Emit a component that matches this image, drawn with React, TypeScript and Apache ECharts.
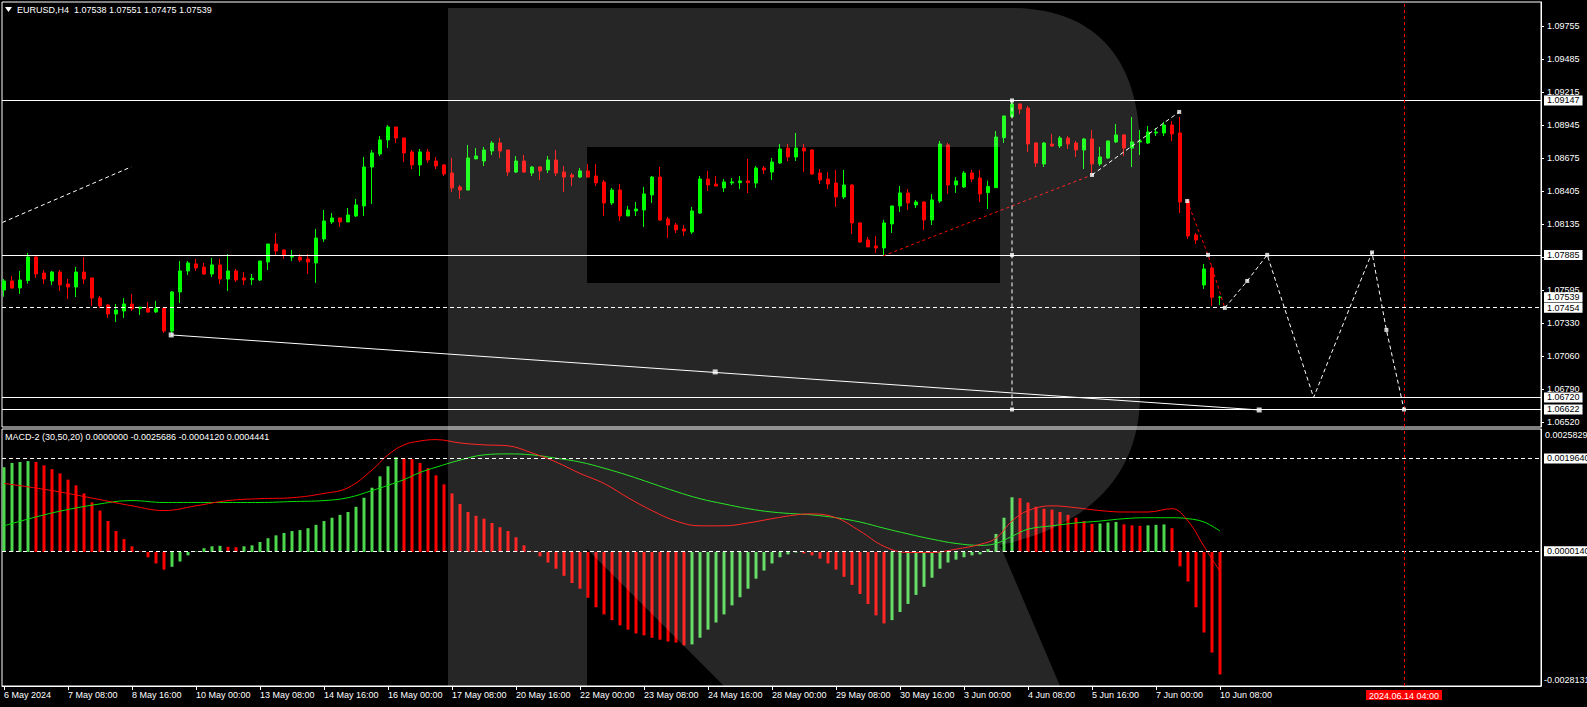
import React, { useEffect, useRef } from "react";
import * as echarts from "echarts";

// ---------- DATA ----------
const timeTickIndex = [0, 8, 16, 24, 32, 40, 48, 56, 64, 72, 80, 88, 96, 104, 112, 120, 128, 136, 144, 152];
const timeLabels = [
  "6 May 2024", "7 May 08:00", "8 May 16:00", "10 May 00:00", "13 May 08:00", "14 May 16:00",
  "16 May 00:00", "17 May 08:00", "20 May 16:00", "22 May 00:00", "23 May 08:00", "24 May 16:00",
  "28 May 00:00", "29 May 08:00", "30 May 16:00", "3 Jun 00:00", "4 Jun 08:00", "5 Jun 16:00",
  "7 Jun 00:00", "10 Jun 08:00",
];
const priceTicks = [1.09755, 1.09485, 1.09215, 1.08945, 1.08675, 1.08405, 1.08135, 1.07865, 1.07595, 1.0733, 1.0706, 1.0679, 1.0652];
const macdTopLabel = 0.0025829;
const macdBottomLabel = -0.0028131;

const opens = [
  1.07598, 1.07672, 1.07615, 1.07675, 1.07868, 1.07737, 1.07672, 1.07745, 1.07647, 1.07623,
  1.07745, 1.07697, 1.07533, 1.07476, 1.07402, 1.07427, 1.07484, 1.07449, 1.07449, 1.07419,
  1.07449, 1.07263, 1.07582, 1.07754, 1.07811, 1.07786, 1.07729, 1.07803, 1.07688, 1.07754,
  1.07697, 1.07683, 1.0768, 1.07827, 1.07974, 1.07925, 1.07868, 1.07868, 1.07852, 1.07819,
  1.08015, 1.08154, 1.08187, 1.08154, 1.08203, 1.08285, 1.08603, 1.08709, 1.08824, 1.0893,
  1.0884, 1.08726, 1.0862, 1.08726, 1.08652, 1.0862, 1.08554, 1.0844, 1.08415, 1.08669,
  1.08652, 1.08734, 1.08799, 1.08742, 1.08562, 1.08652, 1.08554, 1.08603, 1.08579, 1.0866,
  1.08562, 1.08538, 1.08521, 1.08571, 1.0853, 1.08481, 1.08309, 1.08415, 1.08203, 1.08244,
  1.08252, 1.08375, 1.08521, 1.08178, 1.08129, 1.08097, 1.08072, 1.08227, 1.08505, 1.08464,
  1.08432, 1.08473, 1.08475, 1.08489, 1.08472, 1.08595, 1.08562, 1.08636, 1.08758, 1.08685,
  1.08758, 1.08742, 1.08554, 1.08505, 1.08472, 1.08358, 1.08456, 1.08146, 1.08007, 1.07958,
  1.07942, 1.08138, 1.08285, 1.08391, 1.08293, 1.08317, 1.0817, 1.08325, 1.08783, 1.08456,
  1.0844, 1.08554, 1.08513, 1.08394, 1.08434, 1.08843, 1.09014, 1.09118, 1.09085, 1.08799,
  1.08628, 1.08791, 1.08775, 1.0884, 1.08799, 1.08742, 1.08832, 1.08628, 1.08677, 1.08808,
  1.08865, 1.08758, 1.08808, 1.08799, 1.08881, 1.08881, 1.08946, 1.08881, 1.08325, 1.08048,
  1.07639, 1.07778, 1.07538,
];
const closes = [
  1.07672, 1.07615, 1.0768, 1.07868, 1.07729, 1.07688, 1.07745, 1.07639, 1.07623, 1.07745,
  1.07688, 1.07533, 1.07468, 1.07402, 1.07435, 1.07484, 1.07443, 1.07458, 1.07419, 1.07449,
  1.07263, 1.07582, 1.07754, 1.07819, 1.07778, 1.07729, 1.07803, 1.07688, 1.07754, 1.0768,
  1.0768, 1.07694, 1.07835, 1.07974, 1.07917, 1.07884, 1.07871, 1.07843, 1.07827, 1.08023,
  1.08162, 1.08187, 1.08154, 1.08211, 1.08293, 1.08603, 1.08718, 1.08824, 1.0893, 1.0884,
  1.08718, 1.0862, 1.08726, 1.0866, 1.08611, 1.08546, 1.08432, 1.08415, 1.08677, 1.08693,
  1.08742, 1.08799, 1.08734, 1.08562, 1.08652, 1.08562, 1.08603, 1.08571, 1.0866, 1.08554,
  1.08521, 1.08521, 1.08571, 1.08521, 1.08473, 1.08309, 1.08415, 1.08203, 1.08252, 1.0826,
  1.08383, 1.08521, 1.0817, 1.08129, 1.08089, 1.0808, 1.08244, 1.08505, 1.08456, 1.08448,
  1.08481, 1.08481, 1.08489, 1.08475, 1.08595, 1.08579, 1.08644, 1.0875, 1.08685, 1.08758,
  1.08734, 1.08546, 1.08497, 1.08464, 1.08358, 1.08456, 1.08146, 1.07991, 1.0795, 1.07942,
  1.08146, 1.08285, 1.08391, 1.08309, 1.08317, 1.0817, 1.08334, 1.08791, 1.08456, 1.08489,
  1.08554, 1.08505, 1.08383, 1.08443, 1.08848, 1.0902, 1.09118, 1.09077, 1.08791, 1.08636,
  1.08799, 1.08775, 1.0884, 1.08791, 1.08742, 1.08832, 1.08628, 1.08685, 1.08816, 1.08865,
  1.08758, 1.08808, 1.08816, 1.08889, 1.08889, 1.08946, 1.08873, 1.08317, 1.0804, 1.08007,
  1.0777, 1.07539, 1.07539,
];
const highs = [
  1.07688, 1.07713, 1.07754, 1.07901, 1.07876, 1.07762, 1.07754, 1.07762, 1.07688, 1.07786,
  1.07868, 1.07697, 1.07549, 1.07484, 1.07484, 1.07533, 1.07566, 1.0746, 1.075, 1.07509,
  1.0746, 1.0759, 1.07835, 1.07835, 1.07852, 1.07819, 1.0786, 1.07852, 1.07892, 1.0777,
  1.07745, 1.07729, 1.07835, 1.07974, 1.08064, 1.07933, 1.07925, 1.07892, 1.07892, 1.08097,
  1.08252, 1.08227, 1.08187, 1.08268, 1.08342, 1.08685, 1.08742, 1.08856, 1.08946, 1.0893,
  1.0884, 1.08742, 1.0875, 1.0875, 1.08685, 1.08628, 1.08677, 1.08456, 1.08783, 1.08758,
  1.08767, 1.08816, 1.0884, 1.08742, 1.08693, 1.08701, 1.08611, 1.08611, 1.08693, 1.08742,
  1.08611, 1.08554, 1.08595, 1.08628, 1.08628, 1.08497, 1.08432, 1.08464, 1.08285, 1.08317,
  1.0844, 1.0853, 1.08603, 1.08195, 1.08146, 1.08129, 1.08277, 1.0853, 1.08571, 1.0853,
  1.08505, 1.08513, 1.0853, 1.08669, 1.08611, 1.08611, 1.08677, 1.08791, 1.08791, 1.08881,
  1.08791, 1.0875, 1.08587, 1.08562, 1.08579, 1.08579, 1.08464, 1.08154, 1.08031, 1.0804,
  1.08171, 1.08285, 1.08448, 1.08423, 1.08334, 1.08325, 1.08383, 1.08815, 1.08799, 1.08521,
  1.0857, 1.08579, 1.08579, 1.08492, 1.08897, 1.0902, 1.09147, 1.09118, 1.09102, 1.08807,
  1.08807, 1.08873, 1.08856, 1.08856, 1.08816, 1.0884, 1.08905, 1.08767, 1.08816, 1.08955,
  1.08873, 1.09012, 1.08905, 1.08938, 1.08922, 1.08971, 1.08979, 1.09012, 1.08342, 1.08064,
  1.07811, 1.07794, 1.07551,
];
const lows = [
  1.07544, 1.07609, 1.07566, 1.0765, 1.07697, 1.07647, 1.07639, 1.0759, 1.07525, 1.07541,
  1.07647, 1.07468, 1.07451, 1.0737, 1.07337, 1.0737, 1.07427, 1.07394, 1.07411, 1.07411,
  1.07247, 1.07239, 1.07492, 1.07721, 1.07754, 1.07721, 1.07705, 1.07647, 1.0759, 1.07664,
  1.07639, 1.07639, 1.07672, 1.07762, 1.07884, 1.07852, 1.07835, 1.07826, 1.07729, 1.07656,
  1.07991, 1.08138, 1.08113, 1.08154, 1.08195, 1.08203, 1.08301, 1.08692, 1.08758, 1.08799,
  1.08644, 1.08587, 1.0853, 1.08636, 1.08587, 1.0853, 1.08399, 1.08342, 1.08415, 1.08669,
  1.08611, 1.08701, 1.08677, 1.0853, 1.08554, 1.08554, 1.0853, 1.08497, 1.08554, 1.0853,
  1.08399, 1.08448, 1.08513, 1.08513, 1.08448, 1.08203, 1.08293, 1.08162, 1.08203, 1.08203,
  1.08113, 1.08309, 1.08162, 1.08023, 1.08064, 1.0804, 1.08056, 1.08219, 1.08407, 1.08448,
  1.08399, 1.08456, 1.08423, 1.08391, 1.08432, 1.08546, 1.08497, 1.08628, 1.08652, 1.08652,
  1.08562, 1.08538, 1.08464, 1.08423, 1.08276, 1.08342, 1.08056, 1.07982, 1.0795, 1.07901,
  1.07876, 1.08064, 1.08236, 1.08252, 1.08268, 1.08089, 1.08129, 1.08309, 1.08383, 1.08391,
  1.08432, 1.08481, 1.08317, 1.0826, 1.08434, 1.088, 1.09014, 1.09036, 1.08726, 1.08603,
  1.08603, 1.08767, 1.08758, 1.0875, 1.08685, 1.08587, 1.08554, 1.08611, 1.08669, 1.08799,
  1.08693, 1.08603, 1.08701, 1.08791, 1.08856, 1.08856, 1.08815, 1.08227, 1.08015, 1.07974,
  1.07607, 1.07468, 1.07475,
];

const macdHist = [
  0.00178, 0.00187, 0.00189, 0.00191, 0.00189, 0.00182, 0.00174, 0.00165, 0.00152, 0.0014,
  0.00123, 0.00104, 0.00087, 0.00065, 0.00044, 0.00027, 0.00012, 0.00001, -0.00011, -0.00024,
  -0.00037, -0.00031, -0.0002, -0.00007, 0.00001, 0.00008, 0.00012, 0.00013, 0.00011, 0.0001,
  0.00012, 0.00014, 0.00021, 0.00029, 0.00035, 0.0004, 0.00044, 0.00046, 0.0005, 0.00057,
  0.00065, 0.00072, 0.00078, 0.00084, 0.00095, 0.00114, 0.00135, 0.00159, 0.0018, 0.00199,
  0.00197, 0.00195, 0.00187, 0.00176, 0.00161, 0.00142, 0.00123, 0.00101, 0.00084, 0.00076,
  0.0007, 0.00061, 0.00052, 0.00044, 0.00031, 0.00014, 0.00001, -0.00009, -0.00022, -0.00035,
  -0.0005, -0.00065, -0.00077, -0.00096, -0.00116, -0.00131, -0.00143, -0.00154, -0.00163, -0.00171,
  -0.00175, -0.0018, -0.00184, -0.00188, -0.0019, -0.00196, -0.00194, -0.0018, -0.00163, -0.00148,
  -0.00131, -0.00112, -0.00095, -0.00077, -0.00056, -0.00039, -0.00024, -0.00011, -0.00005, -0.00001,
  -0.00003, -0.00007, -0.00014, -0.00024, -0.00037, -0.00052, -0.00069, -0.00088, -0.00109, -0.00133,
  -0.0015, -0.00143, -0.00126, -0.00109, -0.0009, -0.00073, -0.00054, -0.00035, -0.00022, -0.00016,
  -0.00011, -0.00007, -0.00005, 0.00006, 0.00038, 0.00072, 0.00115, 0.00113, 0.00104, 0.00095,
  0.00091, 0.00089, 0.00084, 0.00078, 0.00072, 0.00065, 0.00059, 0.0006, 0.00062, 0.00063,
  0.00058, 0.00056, 0.00055, 0.00056, 0.00057, 0.00058, 0.0005, -0.0003, -0.00062, -0.00116,
  -0.00169, -0.00211, -0.00257,
];
const macdRedLine: [number, number][] = [
  [0, 0.00144], [6, 0.00129], [12, 0.0011], [16, 0.00097], [20, 0.00087], [24, 0.00097], [28, 0.00108],
  [32, 0.00112], [36, 0.00114], [40, 0.00123], [43, 0.00135], [46, 0.00172], [48, 0.00204], [50, 0.00225],
  [52, 0.00233], [54, 0.00236], [57, 0.00229], [60, 0.00225], [63, 0.00223], [66, 0.00208], [69, 0.00189],
  [72, 0.00165], [75, 0.00144], [78, 0.00114], [81, 0.00087], [84, 0.00065], [87, 0.00055], [90, 0.00055],
  [93, 0.00061], [96, 0.0007], [99, 0.00078], [101, 0.0008], [104, 0.00072], [107, 0.00044], [110, 0.00012],
  [113, -0.00001], [116, -0.00001], [119, 0.00006], [122, 0.00016], [124, 0.00029], [126, 0.00065],
  [128, 0.00087], [131, 0.00097], [134, 0.00093], [137, 0.00087], [140, 0.00084], [143, 0.00084],
  [146, 0.00091], [148, 0.00065], [150, 0.00012], [152, -0.00041],
];
const macdGreenLine: [number, number][] = [
  [0, 0.00055], [6, 0.00082], [12, 0.00101], [16, 0.00108], [20, 0.00104], [24, 0.00104], [28, 0.00104],
  [32, 0.00104], [36, 0.00106], [40, 0.00108], [43, 0.00114], [46, 0.00129], [48, 0.0014], [50, 0.00152],
  [52, 0.00167], [54, 0.00178], [57, 0.00193], [60, 0.00204], [63, 0.00206], [66, 0.00204], [69, 0.00197],
  [72, 0.00189], [75, 0.00176], [78, 0.00161], [81, 0.00144], [84, 0.00127], [87, 0.00112], [90, 0.00101],
  [93, 0.00091], [96, 0.00084], [99, 0.0008], [101, 0.00078], [104, 0.00072], [107, 0.00063], [110, 0.0005],
  [113, 0.00038], [116, 0.00027], [119, 0.00018], [122, 0.00014], [124, 0.00018], [126, 0.00033],
  [128, 0.00048], [131, 0.00055], [134, 0.00061], [137, 0.00065], [140, 0.0007], [143, 0.00072],
  [146, 0.00072], [148, 0.0007], [150, 0.00063], [152, 0.00044],
];

const solidLevels = [1.09147, 1.07885, 1.0672, 1.06622];
const dashedLevels = [1.07454];
const bidPrice = 1.07539;
const macdLevels = [0.001964, 0.000014];
const forecastBar = 175;
const forecastLabel = "2024.06.14 04:00";

const trendLine: [number, number][] = [[20.9, 1.07231], [156.9, 1.06618]];
const trendMarkers: [number, number][] = [[20.9, 1.07231], [88.9, 1.06929], [156.9, 1.06618]];
const topLeftDash: [number, number][] = [[-0.2, 1.0815], [15.9, 1.08604]];
const redDashA: [number, number][] = [[109.9, 1.07877], [136, 1.08538]];
const whiteDashA: [number, number][] = [[136, 1.08538], [146.9, 1.09053]];
const redDashB: [number, number][] = [[147.9, 1.08325], [150.5, 1.07885], [152.6, 1.07452]];
const forecastPath: [number, number][] = [
  [152.6, 1.07452], [155.4, 1.07672], [157.9, 1.07885], [163.7, 1.0672], [171, 1.07905], [172.8, 1.07272], [175, 1.06622],
];
const verticalDash: [number, number][] = [[126, 1.09147], [126, 1.06622]];
const pointMarkers: [number, number][] = [
  [136, 1.08538], [146.9, 1.09053], [147.9, 1.08325], [150.5, 1.07885], [152.6, 1.07452], [155.4, 1.07672],
  [157.9, 1.07885], [171, 1.07905], [172.8, 1.07272], [175, 1.06622], [126, 1.09147], [126, 1.07885], [126, 1.06622],
];

const headerText = "EURUSD,H4  1.07538 1.07551 1.07475 1.07539";
const macdHeader = "MACD-2 (30,50,20) 0.0000000 -0.0025686 -0.0004120 0.0004441";

// ---------- STYLE ----------
const FONT = "Liberation Sans";
const UP = "#00ff00";
const DOWN = "#ff0000";
const HIST_UP = "#4cd84c";
const X_MIN = -0.25;
const X_MAX = 192.125;
const Y_MIN = 1.06479;
const Y_MAX = 1.09951;
const M_MIN = -0.0028131;
const M_MAX = 0.0025829;

const LOGO_PATH =
  "M448,8 H1010 C1095,8 1140,58 1140,150 V395 C1140,470 1095,525 1000,545 L1060,686 H724 L587,549 V686 H448 Z " +
  "M587,147 V283 H1000 V147 Z";

function boxLabel(text: string) {
  return {
    show: true,
    position: "end",
    formatter: text,
    backgroundColor: "#ffffff",
    color: "#000000",
    padding: [1, 3, 0, 3],
    distance: 3,
    fontSize: 9,
    fontFamily: FONT,
  };
}

function baseGraphic(): any[] {
  return [
    { id: "tri", type: "polygon", shape: { points: [[5, 7], [12, 7], [8.5, 12]] }, style: { fill: "#ffffff" }, silent: true, z: 50 },
    { id: "hdr", type: "text", x: 17, y: 5, style: { text: headerText, fill: "#ffffff", font: `9px "${FONT}"` }, silent: true, z: 50 },
    { id: "mhdr", type: "text", x: 5, y: 432, style: { text: macdHeader, fill: "#ffffff", font: `9px "${FONT}"` }, silent: true, z: 50 },
    {
      id: "logo",
      type: "logo",
      x: 0,
      y: 0,
      scaleX: 1,
      scaleY: 1,
      style: { fill: "rgba(255,255,255,0.15)" },
      silent: true,
      z: 100,
    },
  ];
}

function buildOption() {
  const candleData = opens.map((o, i) => [i, o, closes[i], lows[i], highs[i]]);
  const histData = macdHist.map((v, i) => [i, v]);

  const mainMarkLines: any[] = [];
  solidLevels.forEach((v) =>
    mainMarkLines.push({ yAxis: v, lineStyle: { color: "#ffffff", type: "solid", width: 1 }, label: boxLabel(v.toFixed(5)) })
  );
  dashedLevels.forEach((v) =>
    mainMarkLines.push({ yAxis: v, lineStyle: { color: "#ffffff", type: [4, 3], width: 1 }, label: boxLabel(v.toFixed(5)) })
  );
  mainMarkLines.push({ yAxis: bidPrice, lineStyle: { color: "transparent", width: 0 }, label: boxLabel(bidPrice.toFixed(5)) });
  mainMarkLines.push({ xAxis: forecastBar, lineStyle: { color: "#ff0000", type: [3, 3], width: 1 }, label: { show: false } });

  const macdMarkLines: any[] = macdLevels.map((v) => ({
    yAxis: v,
    lineStyle: { color: "#ffffff", type: [4, 3], width: 1 },
    label: boxLabel(v.toFixed(7)),
  }));
  macdMarkLines.push({
    xAxis: forecastBar,
    lineStyle: { color: "#ff0000", type: [3, 3], width: 1 },
    label: {
      show: true,
      position: "start",
      formatter: forecastLabel,
      backgroundColor: "#ff0000",
      color: "#ffffff",
      padding: [1, 3, 0, 3],
      distance: 4,
      fontSize: 9,
      fontFamily: FONT,
    },
  });

  const lineSeries = (data: [number, number][], color: string, dashed: any) => ({
    type: "line",
    xAxisIndex: 0,
    yAxisIndex: 0,
    data,
    showSymbol: false,
    silent: true,
    lineStyle: { color, width: 1, type: dashed },
    z: 5,
  });

  return {
    animation: false,
    backgroundColor: "#000000",
    textStyle: { fontFamily: FONT, fontSize: 9 },
    grid: [
      { left: 2, top: 2, width: 1539, height: 425, show: true, borderColor: "#ffffff", borderWidth: 1, backgroundColor: "transparent" },
      { left: 2, top: 429, width: 1539, height: 257, show: true, borderColor: "#ffffff", borderWidth: 1, backgroundColor: "transparent" },
    ],
    xAxis: [
      { type: "value", gridIndex: 0, min: X_MIN, max: X_MAX, show: false, splitLine: { show: false } },
      {
        type: "value",
        gridIndex: 1,
        min: X_MIN,
        max: X_MAX,
        position: "bottom",
        axisLine: { show: true, onZero: false, lineStyle: { color: "#ffffff" } },
        axisTick: { show: true, customValues: timeTickIndex, length: 4, lineStyle: { color: "#ffffff" } },
        axisLabel: {
          show: true,
          customValues: timeTickIndex,
          formatter: (v: number) => timeLabels[timeTickIndex.indexOf(Math.round(v))] ?? "",
          color: "#ffffff",
          fontSize: 9,
          fontFamily: FONT,
          align: "left",
          margin: 4,
        },
        splitLine: { show: false },
      },
    ],
    yAxis: [
      {
        type: "value",
        gridIndex: 0,
        position: "right",
        min: Y_MIN,
        max: Y_MAX,
        axisLine: { show: true, onZero: false, lineStyle: { color: "#ffffff" } },
        axisTick: { show: true, customValues: priceTicks, length: 3, lineStyle: { color: "#ffffff" } },
        axisLabel: {
          show: true,
          customValues: priceTicks,
          formatter: (v: number) => v.toFixed(5),
          color: "#ffffff",
          fontSize: 9,
          fontFamily: FONT,
          margin: 6,
        },
        splitLine: { show: false },
      },
      {
        type: "value",
        gridIndex: 1,
        position: "right",
        min: M_MIN,
        max: M_MAX,
        axisLine: { show: true, onZero: false, lineStyle: { color: "#ffffff" } },
        axisTick: { show: false },
        axisLabel: { show: false },
        splitLine: { show: false },
      },
    ],
    series: [
      {
        type: "candlestick",
        xAxisIndex: 0,
        yAxisIndex: 0,
        data: candleData,
        encode: { x: 0, y: [1, 2, 3, 4] },
        barWidth: 4,
        silent: true,
        itemStyle: { color: UP, color0: DOWN, borderColor: UP, borderColor0: DOWN, borderWidth: 1 },
        markLine: { symbol: ["none", "none"], silent: true, animation: false, precision: 8, data: mainMarkLines },
        z: 3,
      },
      lineSeries(trendLine, "#ffffff", "solid"),
      lineSeries(topLeftDash, "#ffffff", [4, 3]),
      lineSeries(redDashA, "#ff0000", [3, 3]),
      lineSeries(whiteDashA, "#ffffff", [4, 3]),
      lineSeries(redDashB, "#ff0000", [3, 3]),
      lineSeries(forecastPath, "#ffffff", [4, 3]),
      lineSeries(verticalDash, "#ffffff", [4, 3]),
      {
        type: "scatter",
        xAxisIndex: 0,
        yAxisIndex: 0,
        data: trendMarkers,
        symbol: "rect",
        symbolSize: 5,
        itemStyle: { color: "#ffffff" },
        silent: true,
        z: 6,
      },
      {
        type: "scatter",
        xAxisIndex: 0,
        yAxisIndex: 0,
        data: pointMarkers,
        symbol: "rect",
        symbolSize: 4,
        itemStyle: { color: "#ffffff" },
        silent: true,
        z: 6,
      },
      {
        type: "bar",
        xAxisIndex: 1,
        yAxisIndex: 1,
        data: histData,
        barWidth: 3,
        silent: true,
        itemStyle: {
          color: (p: any) => {
            const i = p.dataIndex;
            const prev = i > 0 ? macdHist[i - 1] : macdHist[0] - 1;
            return macdHist[i] > prev ? HIST_UP : DOWN;
          },
        },
        markLine: { symbol: ["none", "none"], silent: true, animation: false, precision: 8, data: macdMarkLines },
        z: 3,
      },
      {
        type: "line",
        xAxisIndex: 1,
        yAxisIndex: 1,
        data: macdGreenLine,
        showSymbol: false,
        smooth: 0.4,
        silent: true,
        lineStyle: { color: "#00e000", width: 1 },
        z: 4,
      },
      {
        type: "line",
        xAxisIndex: 1,
        yAxisIndex: 1,
        data: macdRedLine,
        showSymbol: false,
        smooth: 0.4,
        silent: true,
        lineStyle: { color: "#ff0000", width: 1 },
        z: 4,
      },
    ],
    graphic: baseGraphic(),
  };
}

let logoRegistered = false;

export default function App() {
  const ref = useRef<HTMLDivElement>(null);
  useEffect(() => {
    if (!ref.current) return;
    if (!logoRegistered) {
      echarts.graphic.registerShape("logo", echarts.graphic.extendPath(LOGO_PATH, {}));
      logoRegistered = true;
    }
    const chart = echarts.init(ref.current, null, { renderer: "svg" });
    chart.setOption(buildOption() as any);
    // MACD pane extreme labels placed through the library's own scale
    const yTop = chart.convertToPixel({ yAxisIndex: 1 }, macdTopLabel) as number;
    const yBot = chart.convertToPixel({ yAxisIndex: 1 }, macdBottomLabel) as number;
    const xRight = chart.convertToPixel({ xAxisIndex: 1 }, X_MAX) as number;
    const extra = [
      {
        id: "mtop",
        type: "text",
        x: xRight + 4,
        y: yTop + 1,
        style: { text: macdTopLabel.toFixed(7), fill: "#ffffff", font: `9px "${FONT}"`, verticalAlign: "top" },
        silent: true,
        z: 50,
      },
      {
        id: "mbot",
        type: "text",
        x: xRight + 3,
        y: yBot - 2,
        style: { text: macdBottomLabel.toFixed(7), fill: "#ffffff", font: `9px "${FONT}"`, verticalAlign: "bottom" },
        silent: true,
        z: 50,
      },
    ];
    chart.setOption({ graphic: [...baseGraphic(), ...extra] } as any, { replaceMerge: ["graphic"] } as any);
    return () => chart.dispose();
  }, []);
  return (
    <div
      ref={ref}
      style={{ position: "fixed", left: 0, top: 0, width: 1587, height: 707, background: "#000000" }}
    />
  );
}
